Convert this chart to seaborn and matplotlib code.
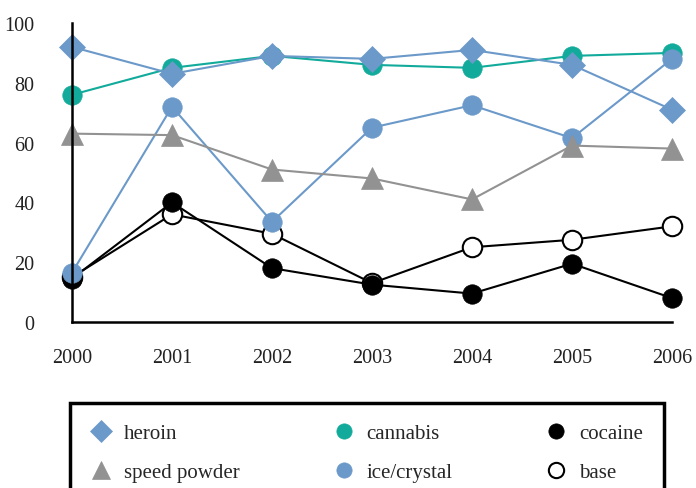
import matplotlib
matplotlib.use("Agg")
import matplotlib.pyplot as plt
from matplotlib.lines import Line2D
import seaborn as sns
import pandas as pd

# --- data ---
years = [2000, 2001, 2002, 2003, 2004, 2005, 2006]
heroin = [92, 83, 89, 88, 91, 86, 71]
cannabis = [76, 85, 89, 86, 85, 89, 90]
cocaine = [14.5, 40, 18, 12.5, 9.5, 19.5, 8]
speed_powder = [63, 62.5, 51, 48, 41, 59, 58]
ice_crystal = [16.5, 72, 33.5, 65, 72.5, 61.5, 88]
base = [15, 36, 29.5, 13, 25, 27.5, 32]

BLUE = "#6b99c9"
TEAL = "#12ab9b"
GREY = "#929292"
BLACK = "#000000"

# name, values, colour, marker, size, face
series = [
    ("base", base, BLACK, "o", 14, "white"),
    ("cocaine", cocaine, BLACK, "o", 14, BLACK),
    ("cannabis", cannabis, TEAL, "o", 14, TEAL),
    ("ice/crystal", ice_crystal, BLUE, "o", 14, BLUE),
    ("speed powder", speed_powder, GREY, "^", 16, GREY),
    ("heroin", heroin, BLUE, "D", 13, BLUE),
]

sns.set_style("white")
plt.rcParams["font.family"] = ["Liberation Serif", "DejaVu Serif"]

fig = plt.figure(figsize=(6.96, 4.89), dpi=100)
ax = fig.add_axes([72 / 696, 1 - 323 / 489, 600 / 696, 299 / 489])

for name, vals, col, mk, ms, face in series:
    df = pd.DataFrame({"year": years, "value": vals})
    sns.lineplot(data=df, x="year", y="value", ax=ax, color=col, linewidth=1.5,
                 marker=mk, markersize=ms, markerfacecolor=face,
                 markeredgecolor=BLACK if face == "white" else col,
                 markeredgewidth=1.5 if face == "white" else 0.5, clip_on=False)

ax.set_xlim(2000, 2006)
ax.set_ylim(0, 100)
ax.set_xticks(years)
ax.set_yticks([0, 20, 40, 60, 80, 100])
ax.set_xlabel("")
ax.set_ylabel("")
for s in ["top", "right"]:
    ax.spines[s].set_visible(False)
for s in ["left", "bottom"]:
    ax.spines[s].set_color(BLACK)
    ax.spines[s].set_linewidth(1.8)
ax.tick_params(axis="both", direction="out", length=5, width=1.8, color=BLACK,
               labelsize=14.5, labelcolor="#222222")
ax.tick_params(axis="y", pad=22)
ax.tick_params(axis="x", pad=14)

# legend, filled column by column
order = [
    ("heroin", "D", BLUE, BLUE, 11),
    ("speed powder", "^", GREY, GREY, 13),
    ("cannabis", "o", TEAL, TEAL, 11),
    ("ice/crystal", "o", BLUE, BLUE, 11),
    ("cocaine", "o", BLACK, BLACK, 11),
    ("base", "o", "white", BLACK, 11),
]
handles = [Line2D([], [], linestyle="none", marker=m, markersize=s,
                  markerfacecolor=f, markeredgecolor=e,
                  markeredgewidth=1.5 if f == "white" else 0.5)
           for _, m, f, e, s in order]
labels = [o[0] for o in order]
leg = fig.legend(handles, labels, ncol=3, loc="upper left",
                 bbox_to_anchor=(64 / 696, 1 - 404 / 489, 590 / 696, 0.001),
                 mode="expand", fancybox=False, frameon=True, framealpha=1,
                 fontsize=15, borderpad=1.0, labelspacing=0.95,
                 handlelength=1.0, handletextpad=0.6, borderaxespad=0)
leg.get_frame().set_edgecolor(BLACK)
leg.get_frame().set_linewidth(2.5)
# keep the frame where the reference draws it
leg.set_bbox_to_anchor((70 / 696, 1 - 404 / 489, 594 / 696, 0.001),
                       transform=fig.transFigure)

fig.savefig("out.png", dpi=100)
